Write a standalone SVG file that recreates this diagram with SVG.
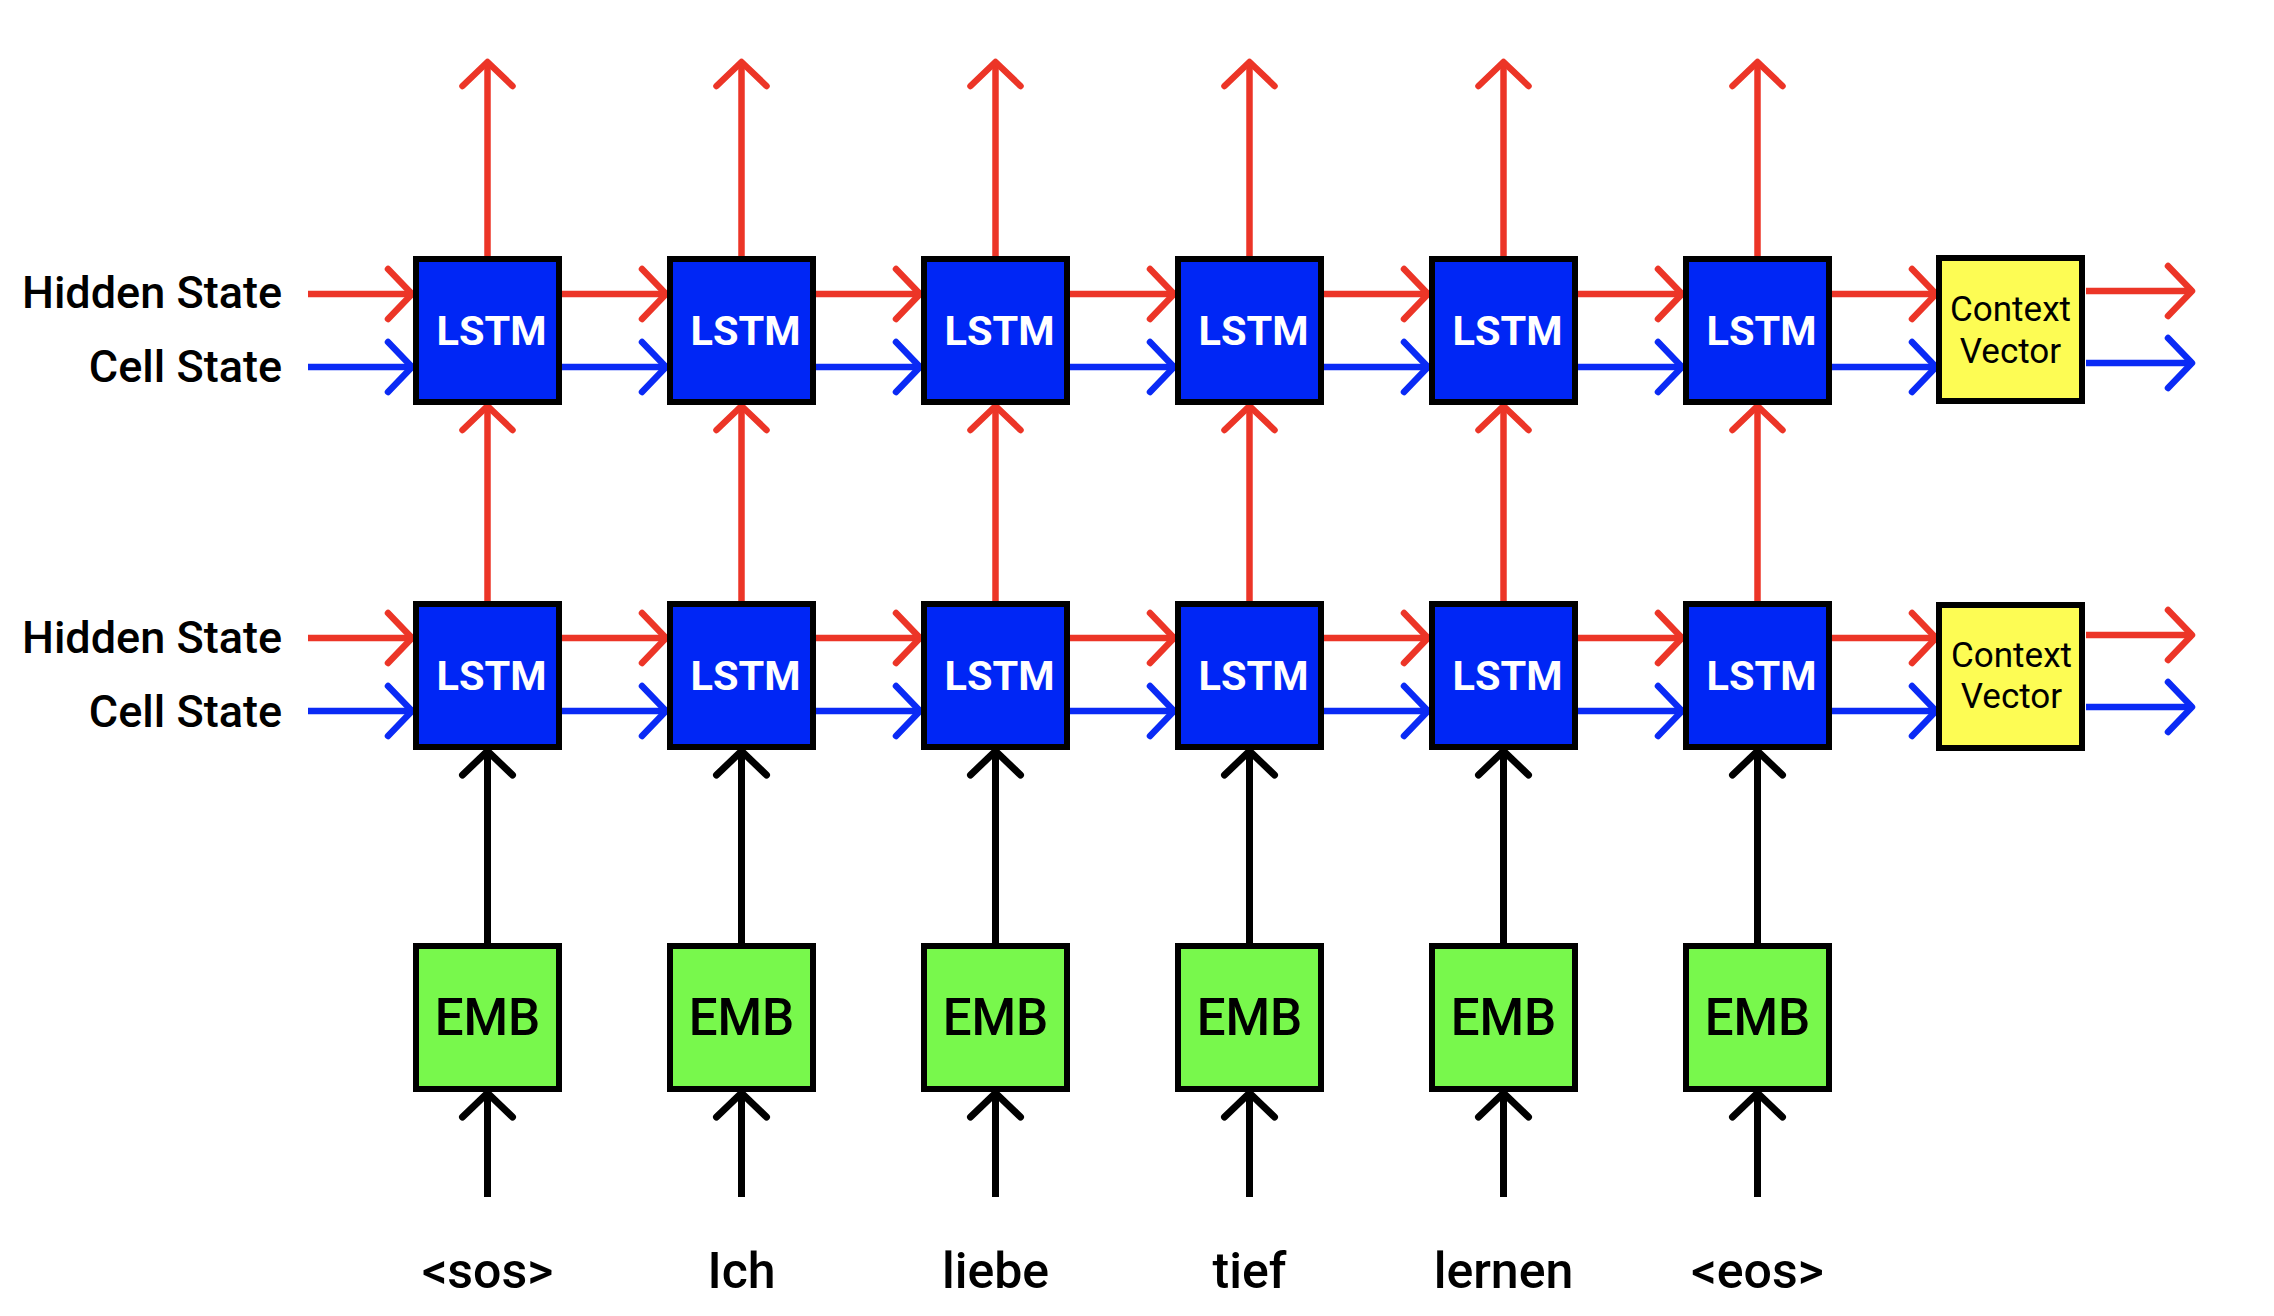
<svg xmlns="http://www.w3.org/2000/svg" width="2274" height="1316" viewBox="0 0 2274 1316">
<style>
.lstm{fill:#0026F5;stroke:#000;stroke-width:6}
.emb{fill:#78F84C;stroke:#000;stroke-width:6}
.ctx{fill:#FDFC54;stroke:#000;stroke-width:6}
.tl{font-family:Roboto,"Liberation Sans",sans-serif;font-weight:700;font-size:41.5px;fill:#fff;text-anchor:middle}
.te{font-family:Roboto,"Liberation Sans",sans-serif;font-weight:500;font-size:51px;fill:#000;text-anchor:middle}
.tc{font-family:Roboto,"Liberation Sans",sans-serif;font-weight:400;font-size:35px;fill:#000;text-anchor:middle}
.tw{font-family:Roboto,"Liberation Sans",sans-serif;font-weight:500;font-size:50px;fill:#000;text-anchor:middle}
.ts{font-family:Roboto,"Liberation Sans",sans-serif;font-weight:500;font-size:45px;fill:#000;text-anchor:end}
.r{stroke:#EC3527;stroke-width:6.5;fill:none;marker-end:url(#ar)}
.b{stroke:#0A2AF5;stroke-width:6.5;fill:none;marker-end:url(#ab)}
.k{stroke:#000;stroke-width:7;fill:none;marker-end:url(#ak)}
</style>
<defs>
<marker id="ar" markerUnits="userSpaceOnUse" orient="auto" overflow="visible" refX="0" refY="0" markerWidth="1" markerHeight="1"><path d="M-25,-25 L-1,0 L-25,25" fill="none" stroke="#EC3527" stroke-width="6.5" stroke-linecap="round" stroke-linejoin="round"/></marker>
<marker id="ab" markerUnits="userSpaceOnUse" orient="auto" overflow="visible" refX="0" refY="0" markerWidth="1" markerHeight="1"><path d="M-25,-25 L-1,0 L-25,25" fill="none" stroke="#0A2AF5" stroke-width="6.5" stroke-linecap="round" stroke-linejoin="round"/></marker>
<marker id="ak" markerUnits="userSpaceOnUse" orient="auto" overflow="visible" refX="0" refY="0" markerWidth="1" markerHeight="1"><path d="M-25,-25 L-1,0 L-25,25" fill="none" stroke="#000" stroke-width="7" stroke-linecap="round" stroke-linejoin="round"/></marker>
</defs>
<rect width="2274" height="1316" fill="#fff"/>
<g id="labels">
<text class="ts" x="282" y="308">Hidden State</text>
<text class="ts" x="282" y="382">Cell State</text>
<text class="ts" x="282" y="653">Hidden State</text>
<text class="ts" x="282" y="727">Cell State</text>
</g>
<g id="connectors">
<line class="r" x1="487.5" y1="256" x2="487.5" y2="61"/>
<line class="r" x1="741.5" y1="256" x2="741.5" y2="61"/>
<line class="r" x1="995.5" y1="256" x2="995.5" y2="61"/>
<line class="r" x1="1249.5" y1="256" x2="1249.5" y2="61"/>
<line class="r" x1="1503.5" y1="256" x2="1503.5" y2="61"/>
<line class="r" x1="1757.5" y1="256" x2="1757.5" y2="61"/>
<line class="r" x1="487.5" y1="601" x2="487.5" y2="405"/>
<line class="r" x1="741.5" y1="601" x2="741.5" y2="405"/>
<line class="r" x1="995.5" y1="601" x2="995.5" y2="405"/>
<line class="r" x1="1249.5" y1="601" x2="1249.5" y2="405"/>
<line class="r" x1="1503.5" y1="601" x2="1503.5" y2="405"/>
<line class="r" x1="1757.5" y1="601" x2="1757.5" y2="405"/>
<line class="k" x1="487.5" y1="943" x2="487.5" y2="750"/>
<line class="k" x1="741.5" y1="943" x2="741.5" y2="750"/>
<line class="k" x1="995.5" y1="943" x2="995.5" y2="750"/>
<line class="k" x1="1249.5" y1="943" x2="1249.5" y2="750"/>
<line class="k" x1="1503.5" y1="943" x2="1503.5" y2="750"/>
<line class="k" x1="1757.5" y1="943" x2="1757.5" y2="750"/>
<line class="k" x1="487.5" y1="1197" x2="487.5" y2="1092"/>
<line class="k" x1="741.5" y1="1197" x2="741.5" y2="1092"/>
<line class="k" x1="995.5" y1="1197" x2="995.5" y2="1092"/>
<line class="k" x1="1249.5" y1="1197" x2="1249.5" y2="1092"/>
<line class="k" x1="1503.5" y1="1197" x2="1503.5" y2="1092"/>
<line class="k" x1="1757.5" y1="1197" x2="1757.5" y2="1092"/>
<line class="r" x1="308" y1="294" x2="413" y2="294"/>
<line class="r" x1="562" y1="294" x2="667" y2="294"/>
<line class="r" x1="816" y1="294" x2="921" y2="294"/>
<line class="r" x1="1070" y1="294" x2="1175" y2="294"/>
<line class="r" x1="1324" y1="294" x2="1429" y2="294"/>
<line class="r" x1="1578" y1="294" x2="1683" y2="294"/>
<line class="r" x1="1832" y1="294" x2="1937" y2="294"/>
<line class="r" x1="2086" y1="291" x2="2193" y2="291"/>
<line class="b" x1="308" y1="367" x2="413" y2="367"/>
<line class="b" x1="562" y1="367" x2="667" y2="367"/>
<line class="b" x1="816" y1="367" x2="921" y2="367"/>
<line class="b" x1="1070" y1="367" x2="1175" y2="367"/>
<line class="b" x1="1324" y1="367" x2="1429" y2="367"/>
<line class="b" x1="1578" y1="367" x2="1683" y2="367"/>
<line class="b" x1="1832" y1="367" x2="1937" y2="367"/>
<line class="b" x1="2086" y1="363" x2="2193" y2="363"/>
<line class="r" x1="308" y1="638" x2="413" y2="638"/>
<line class="r" x1="562" y1="638" x2="667" y2="638"/>
<line class="r" x1="816" y1="638" x2="921" y2="638"/>
<line class="r" x1="1070" y1="638" x2="1175" y2="638"/>
<line class="r" x1="1324" y1="638" x2="1429" y2="638"/>
<line class="r" x1="1578" y1="638" x2="1683" y2="638"/>
<line class="r" x1="1832" y1="638" x2="1937" y2="638"/>
<line class="r" x1="2086" y1="635" x2="2193" y2="635"/>
<line class="b" x1="308" y1="711" x2="413" y2="711"/>
<line class="b" x1="562" y1="711" x2="667" y2="711"/>
<line class="b" x1="816" y1="711" x2="921" y2="711"/>
<line class="b" x1="1070" y1="711" x2="1175" y2="711"/>
<line class="b" x1="1324" y1="711" x2="1429" y2="711"/>
<line class="b" x1="1578" y1="711" x2="1683" y2="711"/>
<line class="b" x1="1832" y1="711" x2="1937" y2="711"/>
<line class="b" x1="2086" y1="707" x2="2193" y2="707"/>
</g>
<g id="lstm-top-1"><rect class="lstm" x="416" y="259" width="143" height="143"/><text class="tl" x="491.5" y="345">LSTM</text></g>
<g id="lstm-top-2"><rect class="lstm" x="670" y="259" width="143" height="143"/><text class="tl" x="745.5" y="345">LSTM</text></g>
<g id="lstm-top-3"><rect class="lstm" x="924" y="259" width="143" height="143"/><text class="tl" x="999.5" y="345">LSTM</text></g>
<g id="lstm-top-4"><rect class="lstm" x="1178" y="259" width="143" height="143"/><text class="tl" x="1253.5" y="345">LSTM</text></g>
<g id="lstm-top-5"><rect class="lstm" x="1432" y="259" width="143" height="143"/><text class="tl" x="1507.5" y="345">LSTM</text></g>
<g id="lstm-top-6"><rect class="lstm" x="1686" y="259" width="143" height="143"/><text class="tl" x="1761.5" y="345">LSTM</text></g>
<g id="ctx-top"><rect class="ctx" x="1939" y="258" width="143" height="143"/><text class="tc" x="2010.5" y="321">Context</text><text class="tc" x="2010.5" y="363">Vector</text></g>
<g id="lstm-bot-1"><rect class="lstm" x="416" y="604" width="143" height="143"/><text class="tl" x="491.5" y="690">LSTM</text></g>
<g id="lstm-bot-2"><rect class="lstm" x="670" y="604" width="143" height="143"/><text class="tl" x="745.5" y="690">LSTM</text></g>
<g id="lstm-bot-3"><rect class="lstm" x="924" y="604" width="143" height="143"/><text class="tl" x="999.5" y="690">LSTM</text></g>
<g id="lstm-bot-4"><rect class="lstm" x="1178" y="604" width="143" height="143"/><text class="tl" x="1253.5" y="690">LSTM</text></g>
<g id="lstm-bot-5"><rect class="lstm" x="1432" y="604" width="143" height="143"/><text class="tl" x="1507.5" y="690">LSTM</text></g>
<g id="lstm-bot-6"><rect class="lstm" x="1686" y="604" width="143" height="143"/><text class="tl" x="1761.5" y="690">LSTM</text></g>
<g id="ctx-bot"><rect class="ctx" x="1939" y="605" width="143" height="143"/><text class="tc" x="2011.5" y="667">Context</text><text class="tc" x="2011.5" y="708">Vector</text></g>
<g id="emb-1"><rect class="emb" x="416" y="946" width="143" height="143"/><text class="te" x="487.5" y="1035">EMB</text></g>
<g id="emb-2"><rect class="emb" x="670" y="946" width="143" height="143"/><text class="te" x="741.5" y="1035">EMB</text></g>
<g id="emb-3"><rect class="emb" x="924" y="946" width="143" height="143"/><text class="te" x="995.5" y="1035">EMB</text></g>
<g id="emb-4"><rect class="emb" x="1178" y="946" width="143" height="143"/><text class="te" x="1249.5" y="1035">EMB</text></g>
<g id="emb-5"><rect class="emb" x="1432" y="946" width="143" height="143"/><text class="te" x="1503.5" y="1035">EMB</text></g>
<g id="emb-6"><rect class="emb" x="1686" y="946" width="143" height="143"/><text class="te" x="1757.5" y="1035">EMB</text></g>
<g id="words">
<text class="tw" x="487.5" y="1288">&lt;sos&gt;</text>
<text class="tw" x="741.5" y="1288">Ich</text>
<text class="tw" x="995.5" y="1288">liebe</text>
<text class="tw" x="1249.5" y="1288">tief</text>
<text class="tw" x="1503.5" y="1288">lernen</text>
<text class="tw" x="1757.5" y="1288">&lt;eos&gt;</text>
</g>
</svg>
